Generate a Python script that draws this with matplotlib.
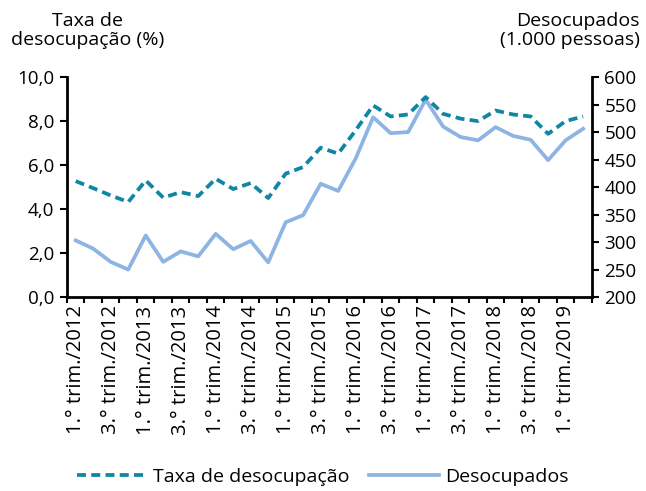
import matplotlib.pyplot as plt
import numpy as np
from matplotlib.lines import Line2D

plt.rcParams['font.family'] = ['Open Sans', 'DejaVu Sans']

trimestres = [f'{q}.° trim./{a}' for a in range(2012, 2020) for q in (1, 2, 3, 4)][:30]
taxa = [5.27, 4.95, 4.62, 4.32, 5.30, 4.52, 4.77, 4.59, 5.38, 4.91, 5.18, 4.50,
        5.61, 5.91, 6.79, 6.52, 7.58, 8.71, 8.21, 8.30, 9.09, 8.33, 8.11, 8.00,
        8.48, 8.30, 8.21, 7.42, 8.00, 8.21]
desocupados = [303, 288, 264, 250, 312, 264, 283, 274, 315, 287, 302, 263,
               336, 349, 406, 393, 452, 527, 498, 500, 559, 510, 491, 485,
               509, 493, 486, 449, 485, 506]

cor_taxa = '#0f86a3'
cor_des = '#8eb4e3'
traco = (0, (2.4, 1.4))

x = np.arange(len(trimestres))

fig = plt.figure(figsize=(6.46, 4.91), dpi=100)
ax = fig.add_axes([0.1037, 0.395, 0.8125, 0.448])
ax2 = ax.twinx()

ax.plot(x, taxa, color=cor_taxa, lw=2.7, ls=traco, zorder=3)
ax2.plot(x, desocupados, color=cor_des, lw=2.7, zorder=2)
ax.set_zorder(ax2.get_zorder() + 1)
ax.patch.set_visible(False)

ax.set_xlim(-0.5, len(x) - 0.5)
ax.set_ylim(0, 10)
ax.set_yticks(np.arange(0, 10.1, 2))
ax.set_yticklabels([f'{v:.1f}'.replace('.', ',') for v in np.arange(0, 10.1, 2)])
ax2.set_ylim(200, 600)
ax2.set_yticks(np.arange(200, 601, 50))

ax.set_xticks(x[::2])
ax.set_xticklabels(trimestres[::2], rotation=90)
ax.set_xticks(np.arange(-0.5, len(x)), minor=True)
ax.tick_params(axis='x', which='major', length=0, pad=6, labelsize=14.5)
ax.tick_params(axis='x', which='minor', length=4, width=1.5, direction='out')
ax.tick_params(axis='y', length=5, width=1.5, labelsize=13.5, pad=4)
ax2.tick_params(axis='y', length=5, width=1.5, labelsize=13.5, pad=4)

for a in (ax, ax2):
    a.spines['top'].set_visible(False)
    for s in ('left', 'right', 'bottom'):
        a.spines[s].set_linewidth(2)
ax.spines['right'].set_visible(False)
ax2.spines['left'].set_visible(False)
ax2.spines['bottom'].set_visible(False)

fig.text(0.135, 0.975, 'Taxa de\ndesocupação (%)', ha='center', va='top',
         fontsize=14, linespacing=1.05)
fig.text(0.99, 0.975, 'Desocupados\n(1.000 pessoas)', ha='right', va='top',
         fontsize=14, linespacing=1.05, multialignment='right')

handles = [Line2D([], [], color=cor_taxa, lw=2.7, ls=traco),
           Line2D([], [], color=cor_des, lw=2.7)]
fig.legend(handles, ['Taxa de desocupação', 'Desocupados'], loc='lower center',
           bbox_to_anchor=(0.5, -0.025), ncol=2, frameon=False, fontsize=14,
           handlelength=3.6, handletextpad=0.3, columnspacing=1.0)

fig.savefig('out.png', dpi=100)
